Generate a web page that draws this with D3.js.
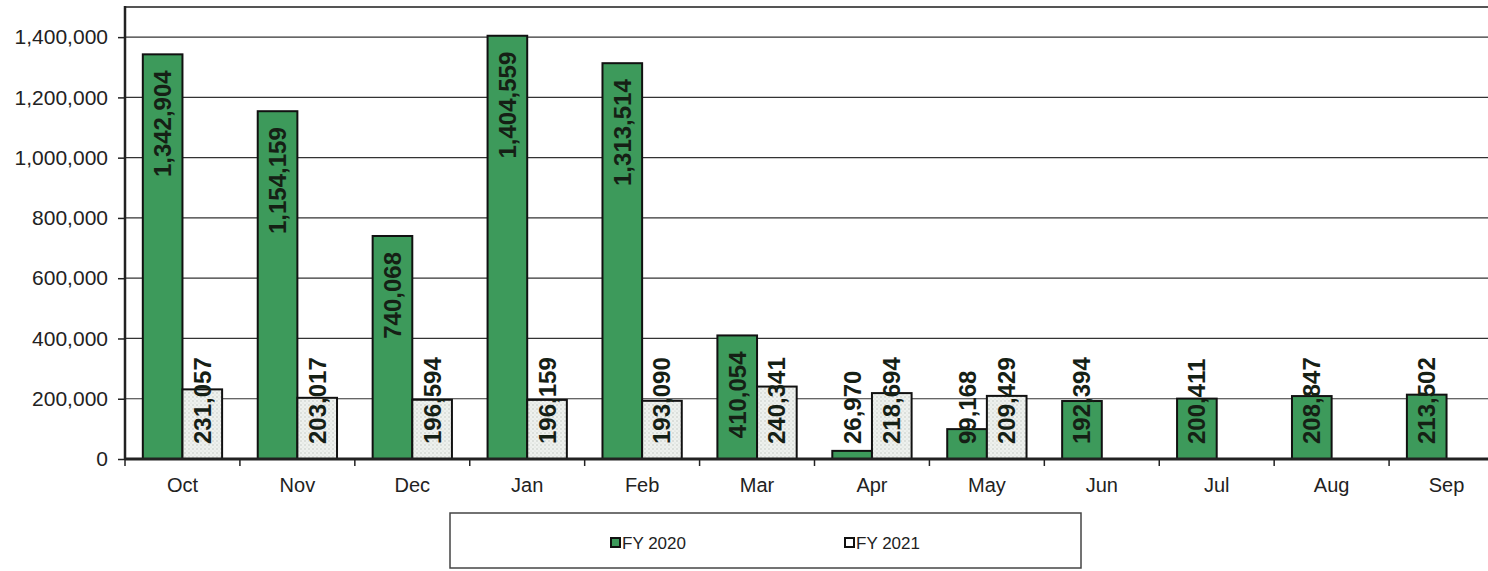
<!DOCTYPE html>
<html><head><meta charset="utf-8">
<script src="https://cdn.jsdelivr.net/npm/d3@7"></script>
<style>html,body{margin:0;padding:0;background:#fff;}svg{display:block;}</style>
</head><body>
<svg id="chart" width="1488" height="571"></svg>
<script>
const months = ["Oct","Nov","Dec","Jan","Feb","Mar","Apr","May","Jun","Jul","Aug","Sep"];
const fy2020 = [1342904,1154159,740068,1404559,1313514,410054,26970,99168,192394,200411,208847,213502];
const fy2021 = [231057,203017,196594,196159,193090,240341,218694,209429,null,null,null,null];
const seriesNames = ["FY 2020","FY 2021"];
const yTicks = [0,200000,400000,600000,800000,1000000,1200000,1400000];

(function(){
const svg = d3.select("#chart");
const font = "'Liberation Sans', Arial, sans-serif";
const pL = 125, pR = 1504, pT = 7, pB = 459;

const defs = svg.append("defs");
const pat = defs.append("pattern").attr("id","dots").attr("patternUnits","userSpaceOnUse")
  .attr("width",4).attr("height",4);
pat.append("rect").attr("width",4).attr("height",4).attr("fill","#eef1ee");
pat.append("circle").attr("cx",1).attr("cy",1).attr("r",0.7).attr("fill","#b9bfb9");
pat.append("circle").attr("cx",3).attr("cy",3).attr("r",0.6).attr("fill","#cfd4cf");

const x = d3.scaleBand().domain(months).range([pL,pR]).paddingInner(0).paddingOuter(0);
const y = d3.scaleLinear().domain([0,1500000]).range([pB,pT]);
const bw = x.bandwidth();
const barW = bw*0.345;
const off = (bw - 2*barW)/2;

svg.append("g").selectAll("line").data(yTicks.filter(d=>d>0)).join("line")
  .attr("x1",pL).attr("x2",pR).attr("y1",d=>y(d)).attr("y2",d=>y(d))
  .attr("stroke","#333").attr("stroke-width",1.2);
svg.append("line").attr("x1",pL).attr("x2",pR).attr("y1",pT).attr("y2",pT)
  .attr("stroke","#555").attr("stroke-width",2);

const yAxis = d3.axisLeft(y).tickValues(yTicks).tickFormat(d3.format(",")).tickSize(7).tickPadding(10);
const gy = svg.append("g").attr("transform",`translate(${pL},0)`).call(yAxis);
gy.select(".domain").remove();
gy.selectAll(".tick line").attr("stroke","#222").attr("stroke-width",1.5);
gy.selectAll("text").attr("font-family",font).attr("font-size",21).attr("fill","#222");
svg.append("line").attr("x1",pL).attr("x2",pL).attr("y1",pT-1).attr("y2",pB+1)
  .attr("stroke","#222").attr("stroke-width",2.5);

const gx = svg.append("g").attr("transform",`translate(0,${pB})`);
gx.selectAll("line.t").data(months.map((m,i)=>i)).join("line")
  .attr("x1",i=>pL+i*bw).attr("x2",i=>pL+i*bw).attr("y1",0).attr("y2",7)
  .attr("stroke","#222").attr("stroke-width",1.5);
gx.selectAll("text").data(months).join("text")
  .attr("x",d=>x(d)+bw/2).attr("y",33).attr("text-anchor","middle")
  .attr("font-family",font).attr("font-size",20).attr("fill","#222").text(d=>d);

const bars = [];
months.forEach((m,i)=>{
  bars.push({m, v:fy2020[i], s:0});
  if (fy2021[i]!=null) bars.push({m, v:fy2021[i], s:1});
});
svg.append("g").selectAll("rect").data(bars).join("rect")
  .attr("x",d=>x(d.m)+off+d.s*barW).attr("width",barW)
  .attr("y",d=>y(d.v)).attr("height",d=>pB-y(d.v))
  .attr("fill",d=>d.s===0?"#3d9a5b":"url(#dots)")
  .attr("stroke","#111").attr("stroke-width",2);

svg.append("line").attr("x1",pL).attr("x2",pR).attr("y1",pB).attr("y2",pB)
  .attr("stroke","#222").attr("stroke-width",3);

const fmt = d3.format(",");
const lg = svg.append("g");
bars.forEach(d=>{
  const cx = x(d.m)+off+d.s*barW + barW/2;
  const t = lg.append("text").attr("font-family",font).attr("font-size",24).attr("font-weight","bold")
    .attr("fill","#152015").attr("text-anchor","start").text(fmt(d.v));
  const len = t.node().getComputedTextLength();
  const yb = Math.min(y(d.v)+16+len, pB-15);
  t.attr("transform",`translate(${cx+8.5},${yb}) rotate(-90)`);
});

const lgd = svg.append("g");
lgd.append("rect").attr("x",450).attr("y",513).attr("width",631).attr("height",55)
  .attr("fill","#fff").attr("stroke","#444").attr("stroke-width",1.5);
const items = [{n:seriesNames[0],x:611,f:"#3d9a5b"},{n:seriesNames[1],x:845,f:"#fff"}];
items.forEach(it=>{
  lgd.append("rect").attr("x",it.x).attr("y",538).attr("width",9).attr("height",9)
    .attr("fill",it.f).attr("stroke","#111").attr("stroke-width",2);
  lgd.append("text").attr("x",it.x+11).attr("y",549).attr("font-family",font).attr("font-size",17)
    .attr("fill","#222").text(it.n);
});
})();
</script>
</body></html>
